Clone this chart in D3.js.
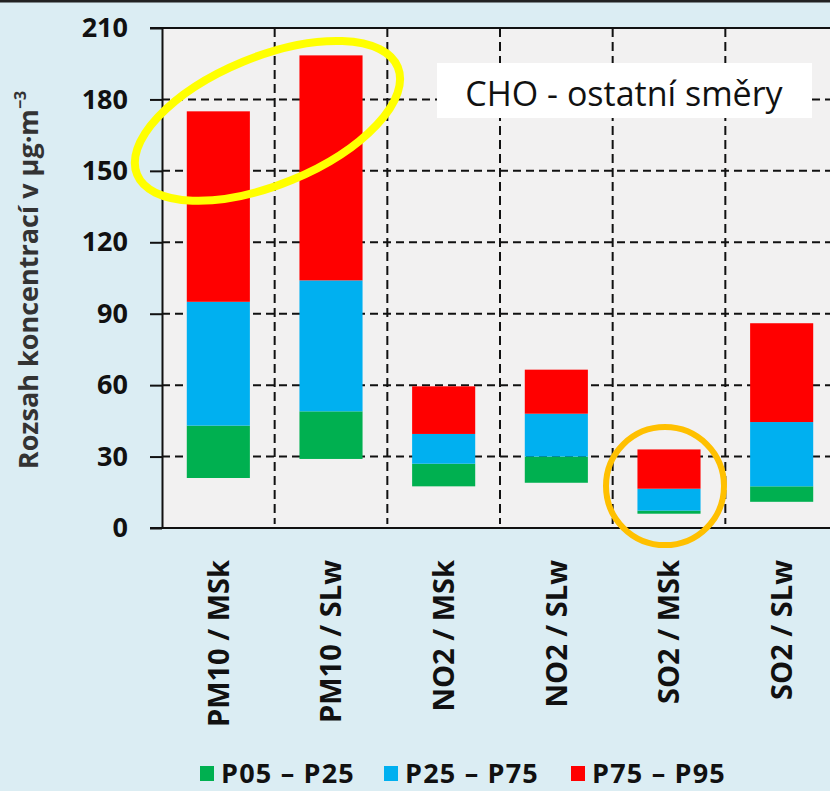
<!DOCTYPE html>
<html lang="cs">
<head>
    <meta charset="UTF-8">
    <title>CHO - ostatní směry</title>
    <script src="https://d3js.org/d3.v7.min.js"></script>
    <style>
        body { margin: 0; background: #dbedf3; }
        svg { display: block; }
        text { font-family: "Open Sans", "DejaVu Sans", sans-serif; }
    </style>
</head>
<body>
    <svg id="chart" width="830" height="791"></svg>
    <script>
        // categories and percentile values (µg·m-3)
        const categories = ["PM10 / MSk", "PM10 / SLw", "NO2 / MSk", "NO2 / SLw", "SO2 / MSk", "SO2 / SLw"];
        const p05 = [21, 29, 17.5, 19, 6, 11];
        const p25 = [43, 49, 27, 30, 7.3, 17.5];
        const p75 = [95, 104, 39.5, 48, 16.5, 44.5];
        const p95 = [175, 198.5, 59.5, 66.5, 33, 86];
        const yTicks = [0, 30, 60, 90, 120, 150, 180, 210];
        const seriesNames = ["P05 – P25", "P25 – P75", "P75 – P95"];
        const seriesColors = ["#00b050", "#00b0f0", "#ff0000"];

        const svg = d3.select("#chart");
        const width = 830, height = 791;
        const plotLeft = 162, plotTop = 28, plotBottom = 528, plotRight = 838;

        const x = d3.scaleBand().domain(categories).range([plotLeft, plotRight])
            .paddingInner(0.44).paddingOuter(0.22);
        const y = d3.scaleLinear().domain([0, 210]).range([plotBottom, plotTop]);

        // background + top border
        svg.append("rect").attr("width", width).attr("height", height).attr("fill", "#dbedf3");
        svg.append("line").attr("x1", 0).attr("x2", width).attr("y1", 1).attr("y2", 1)
            .attr("stroke", "#222").attr("stroke-width", 3);

        // plot area
        svg.append("rect").attr("x", plotLeft).attr("y", plotTop)
            .attr("width", plotRight - plotLeft).attr("height", plotBottom - plotTop).attr("fill", "#f2f1f1");

        // horizontal gridlines
        svg.append("g").selectAll("line")
            .data(yTicks.filter(d => d > 0 && d < 210))
            .enter().append("line")
            .attr("x1", plotLeft).attr("x2", plotRight)
            .attr("y1", d => y(d)).attr("y2", d => y(d))
            .attr("stroke", "#111").attr("stroke-width", 2).attr("stroke-dasharray", "8,5");

        // vertical gridlines between categories
        const step = x.step();
        svg.append("g").selectAll("line")
            .data(categories.slice(1))
            .enter().append("line")
            .attr("x1", d => x(d) - (step - x.bandwidth()) / 2)
            .attr("x2", d => x(d) - (step - x.bandwidth()) / 2)
            .attr("y1", plotTop).attr("y2", plotBottom - 4)
            .attr("stroke", "#111").attr("stroke-width", 2).attr("stroke-dasharray", "9,5");

        // title box
        svg.append("rect").attr("x", 437).attr("y", 63).attr("width", 375).attr("height", 55).attr("fill", "#ffffff");
        svg.append("text").attr("x", 624).attr("y", 106).attr("text-anchor", "middle")
            .attr("font-size", 34).attr("fill", "#111").text("CHO - ostatní směry");

        // stacked bars
        const stacks = categories.map((c, i) => [
            [p05[i], p25[i]], [p25[i], p75[i]], [p75[i], p95[i]]
        ]);
        categories.forEach((c, i) => {
            svg.append("g").selectAll("rect")
                .data(stacks[i])
                .enter().append("rect")
                .attr("x", x(c))
                .attr("width", x.bandwidth())
                .attr("y", d => y(d[1]))
                .attr("height", d => y(d[0]) - y(d[1]))
                .attr("fill", (d, j) => seriesColors[j]);
        });

        // plot frame: top line and bottom line
        svg.append("line").attr("x1", plotLeft - 12).attr("x2", plotRight).attr("y1", plotTop).attr("y2", plotTop)
            .attr("stroke", "#111").attr("stroke-width", 2);
        svg.append("line").attr("x1", plotLeft - 12).attr("x2", plotRight).attr("y1", plotBottom).attr("y2", plotBottom)
            .attr("stroke", "#111").attr("stroke-width", 2);

        // y axis
        const yAxis = svg.append("g").attr("transform", `translate(${plotLeft},0)`)
            .call(d3.axisLeft(y).tickValues(yTicks).tickSize(12).tickSizeOuter(0).tickPadding(22));
        yAxis.select(".domain").attr("stroke", "#111").attr("stroke-width", 2);
        yAxis.selectAll(".tick line").attr("stroke", "#111").attr("stroke-width", 2);
        yAxis.selectAll(".tick text").attr("font-size", 27).attr("font-weight", "bold")
            .attr("fill", "#111").attr("font-family", "Open Sans");

        // y axis title
        const yTitle = svg.append("text")
            .attr("transform", "translate(38,280) rotate(-90)")
            .attr("text-anchor", "middle").attr("font-size", 27).attr("font-weight", "bold").attr("fill", "#333");
        yTitle.append("tspan").text("Rozsah koncentrací v µg·m");
        yTitle.append("tspan").attr("font-size", 16).attr("dy", -12).text("−3");

        // x labels
        svg.append("g").selectAll("text")
            .data(categories)
            .enter().append("text")
            .attr("transform", d => `translate(${x(d) + x.bandwidth() / 2},560) rotate(-90)`)
            .attr("dy", "0.36em")
            .attr("text-anchor", "end")
            .attr("font-size", 29).attr("font-weight", "bold").attr("fill", "#111")
            .text(d => d);

        // legend
        const legendX = [200, 384, 571];
        const legend = svg.append("g").selectAll("g")
            .data(seriesNames)
            .enter().append("g")
            .attr("transform", (d, i) => `translate(${legendX[i]},766)`);
        legend.append("rect").attr("width", 14).attr("height", 15).attr("fill", (d, i) => seriesColors[i]);
        legend.append("text").attr("x", 21).attr("y", 17)
            .attr("font-size", 27).attr("font-weight", "bold").attr("letter-spacing", 1.2).attr("fill", "#111")
            .text(d => d);

        // highlight marks
        const ex = x(categories[1]) - 32, ey = y(171);
        svg.append("ellipse")
            .attr("cx", ex).attr("cy", ey)
            .attr("rx", 141).attr("ry", 64)
            .attr("transform", `rotate(-22.4,${ex},${ey})`)
            .attr("fill", "none").attr("stroke", "#ffff00").attr("stroke-width", 8);
        svg.append("circle")
            .attr("cx", x(categories[4]) + x.bandwidth() / 2 - 4).attr("cy", y(17.6))
            .attr("r", 59)
            .attr("fill", "none").attr("stroke", "#ffc000").attr("stroke-width", 6);
    </script>
</body>
</html>
